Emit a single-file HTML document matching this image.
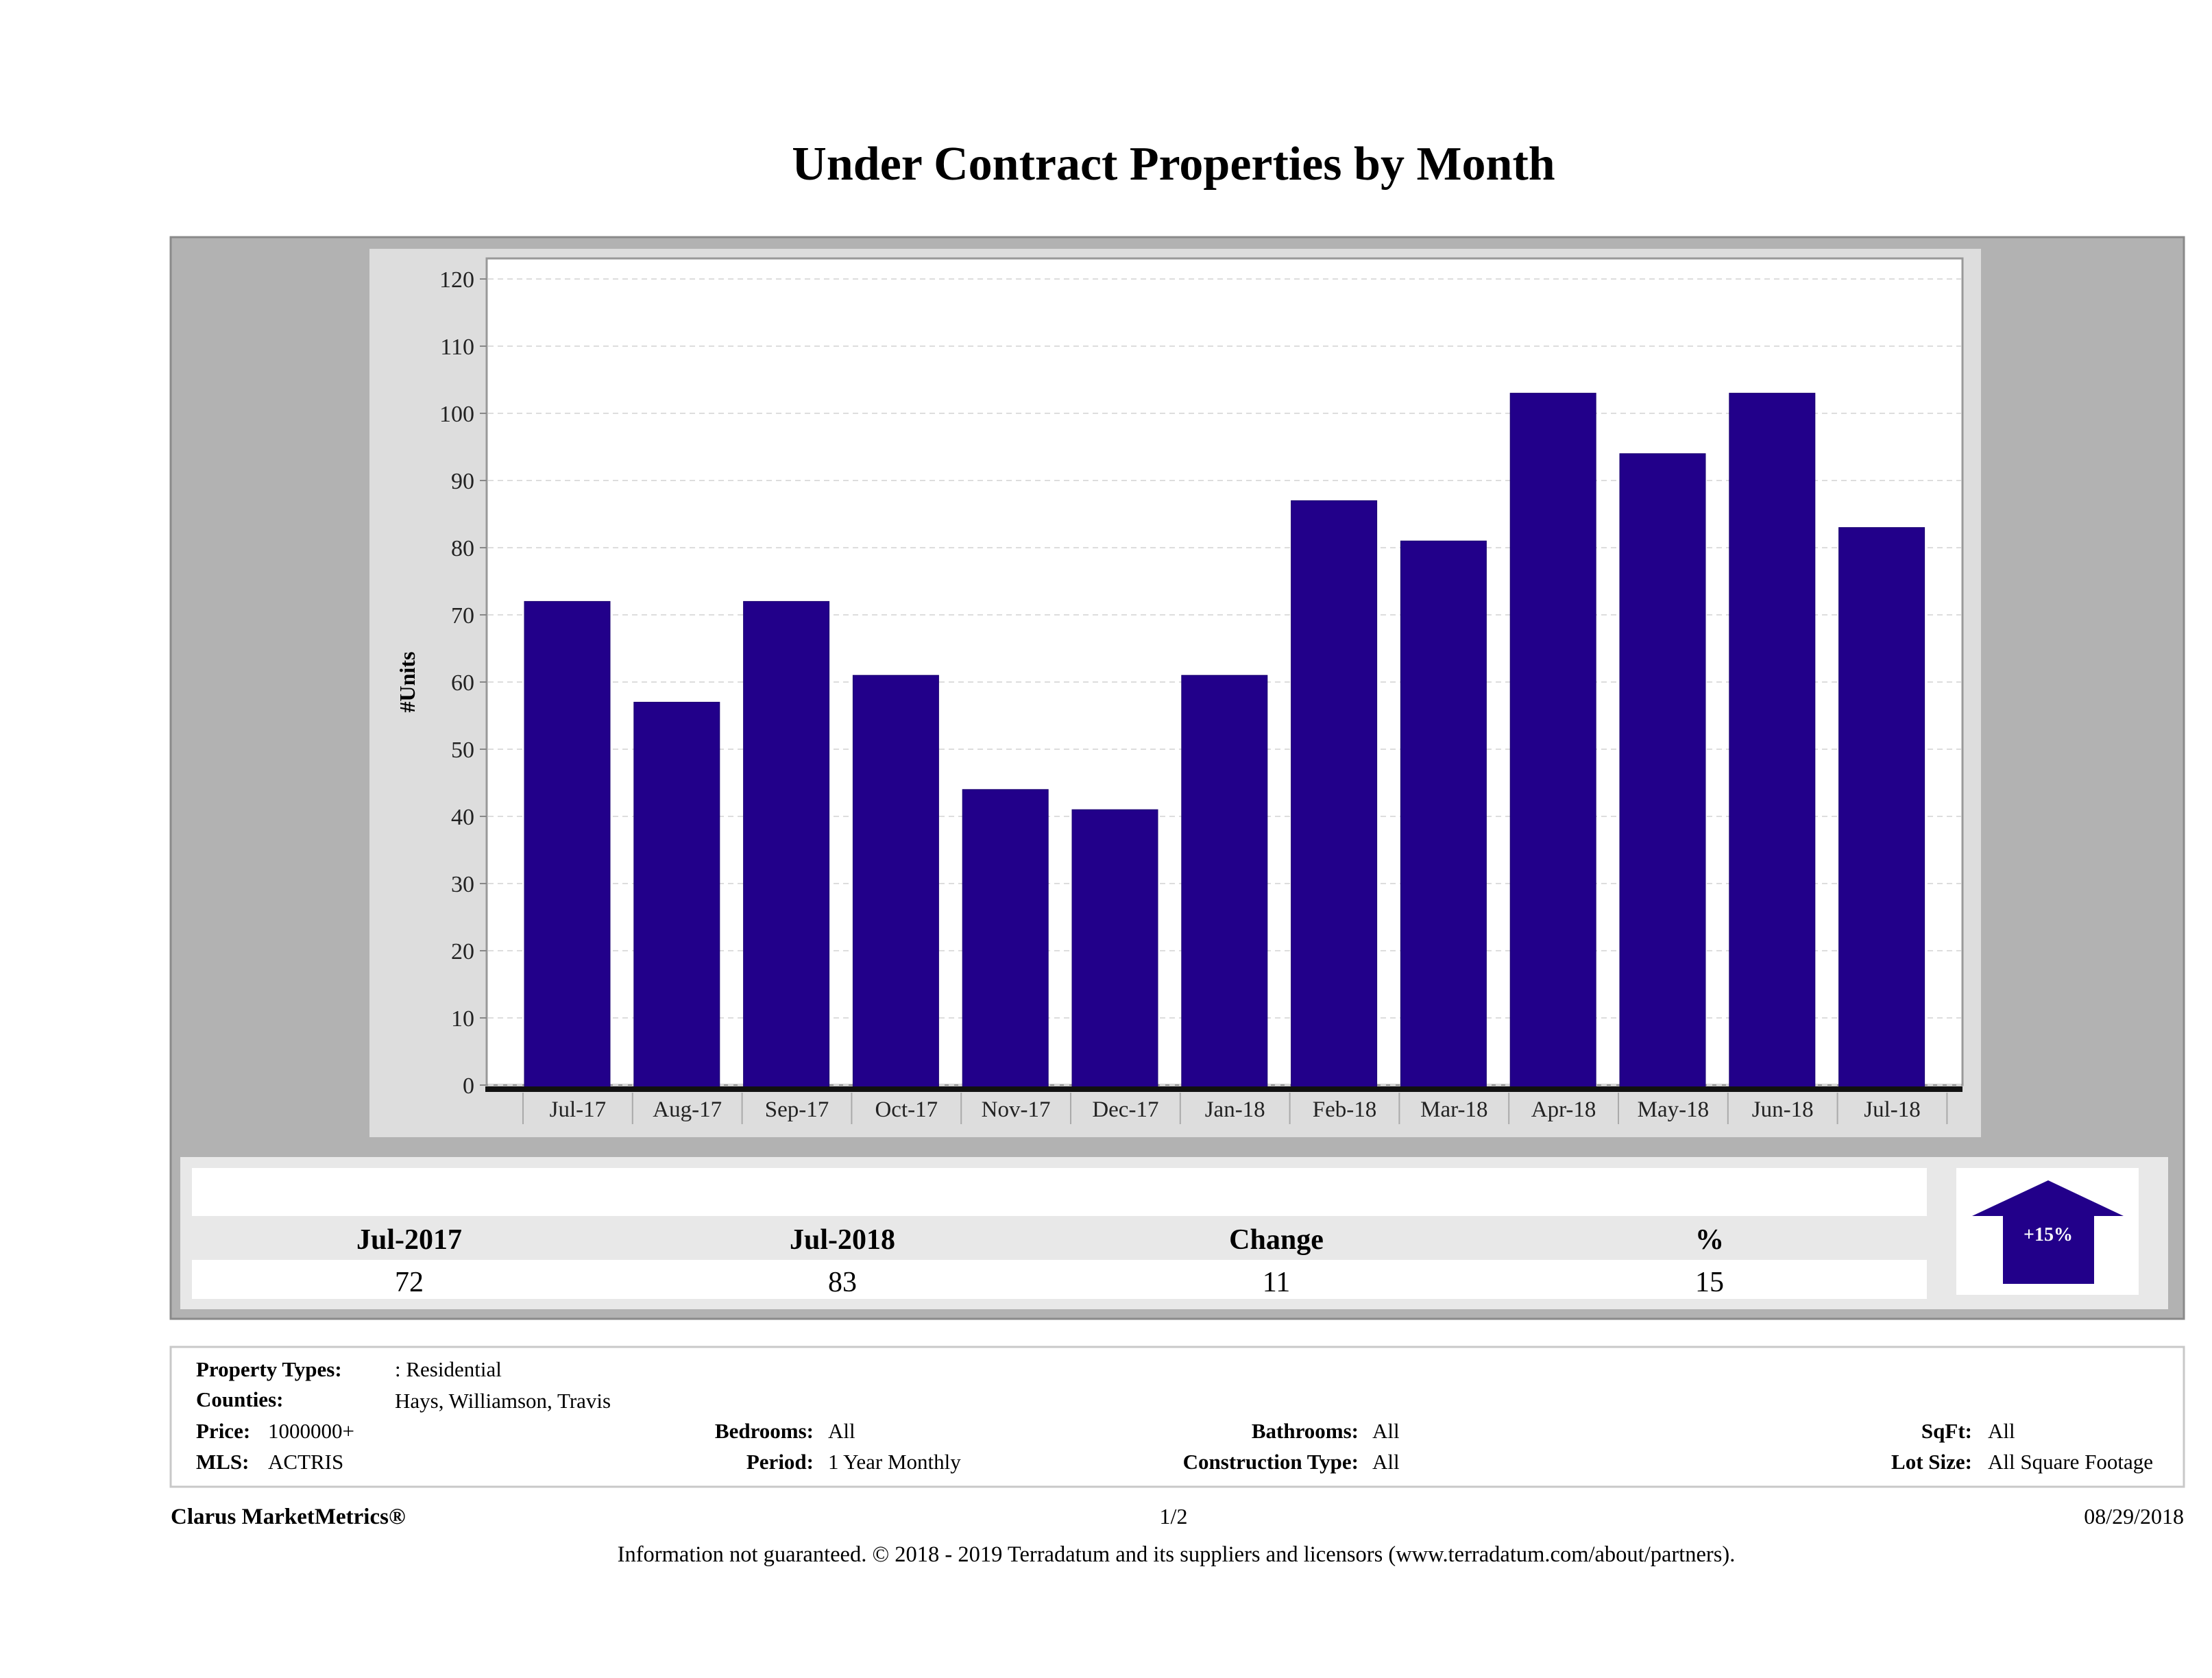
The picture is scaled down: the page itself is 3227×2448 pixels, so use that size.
<!DOCTYPE html>
<html><head><meta charset="utf-8"><style>
html,body{margin:0;padding:0;background:#fff;}
svg{display:block;font-family:"Liberation Serif",serif;}
</style></head><body>
<svg id="chart" xmlns="http://www.w3.org/2000/svg" width="3227" height="2448" viewBox="0 0 3227 2448">
<text x="1712" y="262" font-size="70" font-weight="bold" text-anchor="middle" fill="#000">Under Contract Properties by Month</text>
<rect x="249" y="346" width="2937" height="1578" fill="#b2b2b2" stroke="#8a8a8a" stroke-width="3"/>
<rect x="539" y="363" width="2351" height="1296" fill="#dddddd"/>
<rect x="710" y="377" width="2153" height="1206" fill="#fff" stroke="#999" stroke-width="3"/>
<g id="grid"></g>
<g id="bars"></g>
<line x1="708" y1="1589" x2="2863" y2="1589" stroke="#111" stroke-width="8"/>
<g id="xlabels"></g>
<text transform="translate(605,995) rotate(-90)" font-size="32" font-weight="bold" text-anchor="middle">#Units</text>

<rect x="263" y="1688" width="2900" height="222" fill="#e8e8e8"/>
<rect x="280" y="1704" width="2531" height="70" fill="#fff"/>
<rect x="280" y="1838" width="2531" height="57" fill="#fff"/>
<g font-size="42" text-anchor="middle">
<text x="597" y="1822" font-weight="bold">Jul-2017</text>
<text x="1229" y="1822" font-weight="bold">Jul-2018</text>
<text x="1862" y="1822" font-weight="bold">Change</text>
<text x="2494" y="1822" font-weight="bold">%</text>
<text x="597" y="1884">72</text>
<text x="1229" y="1884">83</text>
<text x="1862" y="1884">11</text>
<text x="2494" y="1884">15</text>
</g>
<rect x="2854" y="1704" width="266" height="185" fill="#fff"/>
<polygon points="2988,1722 3098,1774 3055,1774 3055,1873 2922,1873 2922,1774 2877,1774" fill="#22008a"/>
<text x="2988" y="1810" font-size="28" font-weight="bold" fill="#fff" text-anchor="middle">+15%</text>

<rect x="249" y="1965" width="2937" height="204" fill="#fff" stroke="#c8c8c8" stroke-width="3"/>
<g font-size="31">
<text x="286" y="2008" font-weight="bold">Property Types:</text>
<text x="576" y="2008">: Residential</text>
<text x="286" y="2052" font-weight="bold">Counties:</text>
<text x="576" y="2054">Hays, Williamson, Travis</text>
<text x="286" y="2098" font-weight="bold">Price:</text>
<text x="391" y="2098">1000000+</text>
<text x="286" y="2143" font-weight="bold">MLS:</text>
<text x="391" y="2143">ACTRIS</text>
<text x="1187" y="2098" font-weight="bold" text-anchor="end">Bedrooms:</text>
<text x="1208" y="2098">All</text>
<text x="1187" y="2143" font-weight="bold" text-anchor="end">Period:</text>
<text x="1208" y="2143">1 Year Monthly</text>
<text x="1982" y="2098" font-weight="bold" text-anchor="end">Bathrooms:</text>
<text x="2002" y="2098">All</text>
<text x="1982" y="2143" font-weight="bold" text-anchor="end">Construction Type:</text>
<text x="2002" y="2143">All</text>
<text x="2877" y="2098" font-weight="bold" text-anchor="end">SqFt:</text>
<text x="2900" y="2098">All</text>
<text x="2877" y="2143" font-weight="bold" text-anchor="end">Lot Size:</text>
<text x="2900" y="2143">All Square Footage</text>
</g>
<text x="249" y="2223" font-size="33" font-weight="bold">Clarus MarketMetrics®</text>
<text x="1712" y="2223" font-size="32" text-anchor="middle">1/2</text>
<text x="3186" y="2223" font-size="32" text-anchor="end">08/29/2018</text>
<text x="1716" y="2278" font-size="32.5" text-anchor="middle">Information not guaranteed. © 2018 - 2019 Terradatum and its suppliers and licensors (www.terradatum.com/about/partners).</text>
</svg>
<script>
const categories = ["Jul-17","Aug-17","Sep-17","Oct-17","Nov-17","Dec-17","Jan-18","Feb-18","Mar-18","Apr-18","May-18","Jun-18","Jul-18"];
const values = [72,57,72,61,44,41,61,87,81,103,94,103,83];
const yTicks = [0,10,20,30,40,50,60,70,80,90,100,110,120];
const NS = "http://www.w3.org/2000/svg";
const y0 = 1583, yTop = 407, yMax = 120;
function yScale(v){ return y0 - (y0 - yTop) * v / yMax; }
const xStart = 763, catW = 159.8, barW = 125;
function xScale(i){ return xStart + i * catW; }
function mk(tag, attrs, parent){ const e = document.createElementNS(NS, tag); for (const k in attrs) e.setAttribute(k, attrs[k]); parent.appendChild(e); return e; }
const grid = document.getElementById('grid');
yTicks.forEach(t => {
  const y = yScale(t);
  const gl = mk('line', {x1:712, x2:2861, y1:y, y2:y, stroke:'#ddd', 'stroke-width':2, 'stroke-dasharray':'8,6'}, grid);
  
  
  const tk = mk('line', {x1:700, x2:710, y1:y, y2:y, stroke:'#888', 'stroke-width':2}, grid);
  
  
  const tx = mk('text', {x:692, y:y + 12, 'font-size':34, 'text-anchor':'end', fill:'#222'}, grid);
  tx.textContent = t;
  
  
});
const bars = document.getElementById('bars');
values.forEach((v, i) => {
  const b = mk('rect', {x:xScale(i) + 2, y:yScale(v), width:barW, height:y0 + 3 - yScale(v), fill:'#22008a', stroke:'#1a0070', 'stroke-width':1}, bars);
  
  
});
const xl = document.getElementById('xlabels');
for (let i = 0; i <= categories.length; i++) {
  const x = xScale(i);
  const tk = mk('line', {x1:x, x2:x, y1:1594, y2:1640, stroke:'#aaa', 'stroke-width':2}, xl);
  
  
}
categories.forEach((c, i) => {
  const t = mk('text', {x:xScale(i) + catW / 2, y:1629, 'font-size':33, 'text-anchor':'middle', fill:'#222'}, xl);
  t.textContent = c;
  
  
});
</script>
</body></html>
